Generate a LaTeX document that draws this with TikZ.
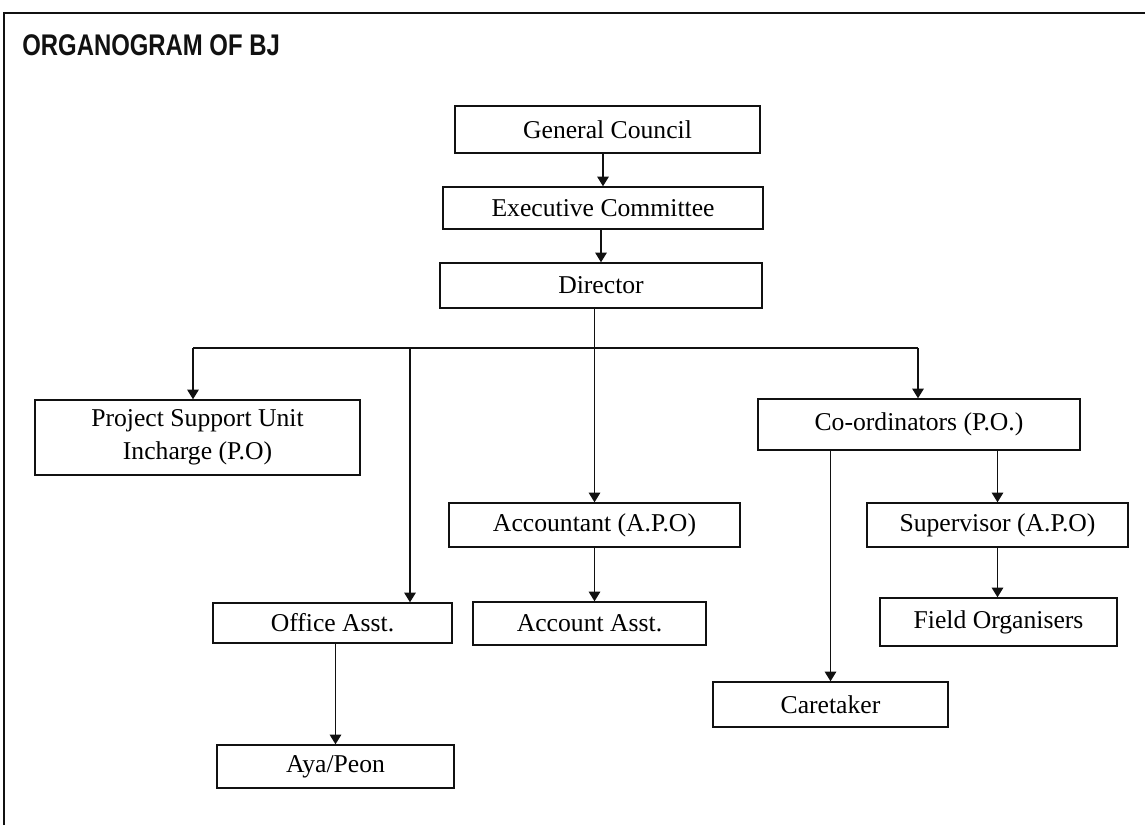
\documentclass[tikz,border=0pt]{standalone}
\usepackage{fontspec}
\usepackage{graphicx}
\usetikzlibrary{arrows.meta}
\setmainfont{Liberation Serif}
\newfontfamily\headfont{Liberation Sans}
\definecolor{ink}{HTML}{111111}

\tikzset{
  post/.style={draw=ink,line width=.8pt,inner sep=0pt,align=center,
    font=\fontsize{14.6}{19}\selectfont},
  link/.style={draw=ink,line width=.9pt,-{Triangle[width=6.5pt,length=5.5pt]}}
}

\begin{document}
\begin{tikzpicture}[x=0.02cm,y=-0.02cm]
    \useasboundingbox (0,0) rectangle (1145,825);
    \fill[white](0,0) rectangle (1145,825);
    \draw[ink,line width=1.2pt](4,825)--(4,13)--(1145,13);
    \node[anchor=base west,inner sep=0pt,text=ink,font=\headfont\bfseries\fontsize{13.6}{16}\selectfont]
      (title) at (22,55) {\scalebox{1}[1.25]{ORGANOGRAM OF BJ}};

    \node[post,minimum width=6.1cm,minimum height=.94cm] (gc) at (607.5,129.5) {General Council};
    \node[post,minimum width=6.4cm,minimum height=.84cm] (ec) at (603,208) {Executive Committee};
    \node[post,minimum width=6.44cm,minimum height=.9cm] (dir) at (601,285.5) {Director};
    \node[post,minimum width=6.5cm,minimum height=1.5cm] (psu) at (197.5,437.5) {Project Support Unit\\Incharge (P.O)};
    \node[post,minimum width=6.44cm,minimum height=1.02cm] (coord) at (919,424.5) {Co-ordinators (P.O.)};
    \node[post,minimum width=5.82cm,minimum height=.88cm] (acc) at (594.5,525) {Accountant (A.P.O)};
    \node[post,minimum width=5.22cm,minimum height=.88cm] (sup) at (997.5,525) {Supervisor (A.P.O)};
    \node[post,minimum width=4.78cm,minimum height=.8cm] (office) at (332.5,623) {Office Asst.};
    \node[post,minimum width=4.66cm,minimum height=.86cm] (accasst) at (589.5,623.5) {Account Asst.};
    \node[post,minimum width=4.74cm,minimum height=.96cm] (field) at (998.5,622) {Field Organisers};
    \node[post,minimum width=4.7cm,minimum height=.9cm] (care) at (830.5,704.5) {Caretaker};
    \node[post,minimum width=4.74cm,minimum height=.86cm] (aya) at (335.5,766.5) {Aya/Peon};

    \coordinate (busL) at (193,348);
    \coordinate (busM) at (410,348);
    \coordinate (busR) at (918,348);

    \draw[link](gc.south -| ec.north)--(ec.north);
    \draw[link](ec.south -| dir.north)--(dir.north);
    \draw[link](dir.south -| acc.north)--(acc.north);
    \draw[ink,line width=.9pt](busL)--(busR);
    \draw[link](busL)--(busL |- psu.north);
    \draw[link](busM)--(busM |- office.north);
    \draw[link](busR)--(busR |- coord.north);
    \draw[link](acc.south)--(acc.south |- accasst.north);
    \draw[link](coord.south -| sup.north)--(sup.north);
    \draw[link](sup.south)--(sup.south |- field.north);
    \draw[link](coord.south -| care.north)--(care.north);
    \draw[link](office.south -| aya.north)--(aya.north);
  \end{tikzpicture}
\end{document}
